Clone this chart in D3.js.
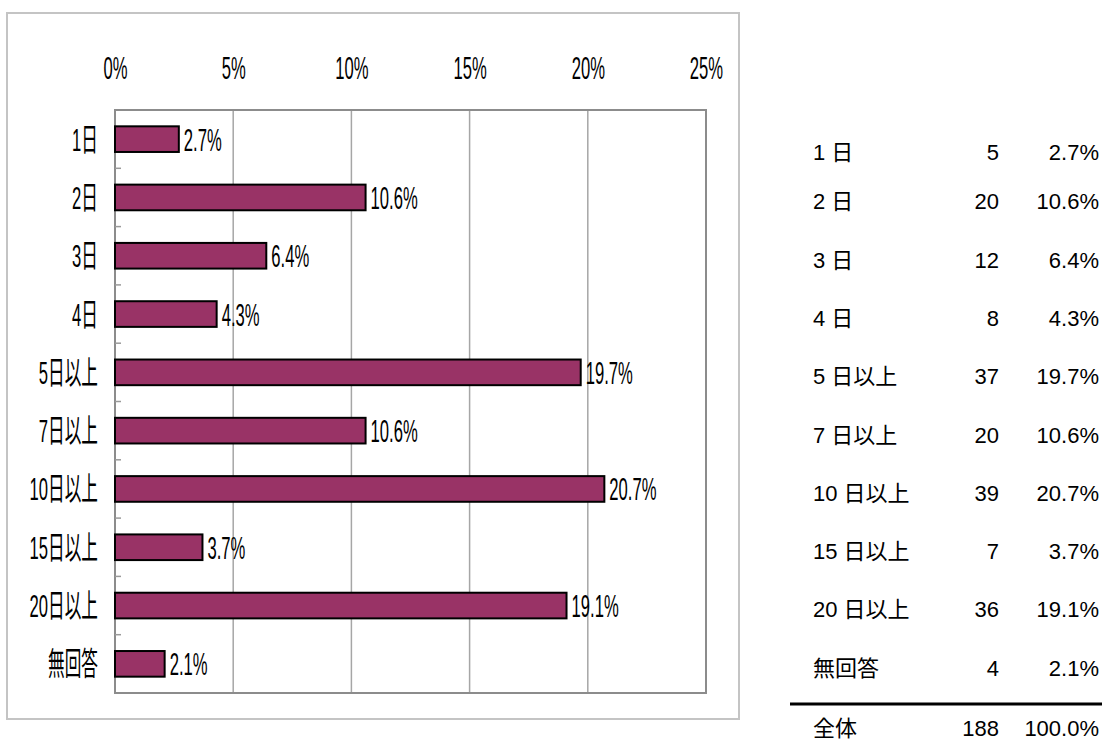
<!DOCTYPE html>
<html>
<head>
<meta charset="utf-8">
<script src="https://cdn.jsdelivr.net/npm/d3@7"></script>
<style>
  body { margin: 0; background: #fff; }
  svg { display: block; }
  .narrow { font-family: "Liberation Sans", Arial, "Noto Sans CJK JP", sans-serif; font-size: 32px; fill: #000; }
  .tbl { font-family: "Liberation Sans", Arial, "Noto Sans CJK JP", sans-serif; font-size: 22px; fill: #000; }
</style>
</head>
<body>
<div id="chart"></div>
<script>
// data
var categories = ["1日", "2日", "3日", "4日", "5日以上", "7日以上", "10日以上", "15日以上", "20日以上", "無回答"];
var tableLabels = ["1 日", "2 日", "3 日", "4 日", "5 日以上", "7 日以上", "10 日以上", "15 日以上", "20 日以上", "無回答"];
var counts = [5, 20, 12, 8, 37, 20, 39, 7, 36, 4];
var percents = [2.7, 10.6, 6.4, 4.3, 19.7, 10.6, 20.7, 3.7, 19.1, 2.1];
var xTicks = [0, 5, 10, 15, 20, 25];
var totalLabel = "全体";
var totalCount = 188;
var totalPercent = "100.0%";

var W = 1102, H = 744;
// plot area
var margin = { top: 110, left: 115 },
    width = 706 - 115,
    height = 693 - 110;
var sx = 0.52; // horizontal squeeze of the chart's lettering

var svg = d3.select("#chart").append("svg")
    .attr("width", W)
    .attr("height", H);

// outer frame of the chart
svg.append("rect")
    .attr("x", 7).attr("y", 13)
    .attr("width", 732).attr("height", 706)
    .attr("fill", "none")
    .attr("stroke", "#c4c4c4")
    .attr("stroke-width", 2);

var g = svg.append("g")
    .attr("transform", "translate(" + margin.left + "," + margin.top + ")");

var x = d3.scaleLinear().domain([0, 25]).range([0, width]);
var y = d3.scaleBand().domain(categories).range([0, height]).paddingInner(0.56).paddingOuter(0.28);
var yb = d3.scaleBand().domain(categories).range([0, height]); // full bands for ticks

// gridlines
g.selectAll(".grid")
    .data(xTicks.slice(1, -1))
    .enter().append("line")
    .attr("x1", function (d) { return x(d); })
    .attr("x2", function (d) { return x(d); })
    .attr("y1", 0).attr("y2", height)
    .attr("stroke", "#a6a6a6")
    .attr("stroke-width", 1.5);

// plot border
g.append("rect")
    .attr("width", width).attr("height", height)
    .attr("fill", "none")
    .attr("stroke", "#8c8c8c")
    .attr("stroke-width", 2);

// small tick marks between categories on the left axis
g.selectAll(".ytick")
    .data(categories.slice(1))
    .enter().append("line")
    .attr("x1", 0).attr("x2", 6)
    .attr("y1", function (d) { return yb(d); })
    .attr("y2", function (d) { return yb(d); })
    .attr("stroke", "#9a9a9a")
    .attr("stroke-width", 1.5);

// top axis labels
var xAxis = g.append("g")
    .call(d3.axisTop(x).tickValues(xTicks).tickSize(0).tickPadding(31)
        .tickFormat(function (d) { return d + "%"; }));
xAxis.select(".domain").remove();
xAxis.attr("font-family", null).attr("font-size", null);
xAxis.selectAll("text")
    .attr("class", "narrow")
    .attr("transform", "scale(" + sx + ",1)");

// left axis labels
var yAxis = g.append("g")
    .call(d3.axisLeft(y).tickSize(0).tickPadding(0));
yAxis.select(".domain").remove();
yAxis.attr("font-family", null).attr("font-size", null);
yAxis.selectAll("text")
    .attr("class", "narrow")
    .attr("x", -17 / sx)
    .attr("dy", "0.36em")
    .attr("transform", "scale(" + sx + ",1)");

// bars
g.selectAll(".bar")
    .data(categories)
    .enter().append("rect")
    .attr("class", "bar")
    .attr("x", 0)
    .attr("y", function (d) { return y(d); })
    .attr("width", function (d, i) { return x(percents[i]); })
    .attr("height", y.bandwidth())
    .attr("fill", "#993366")
    .attr("stroke", "#000")
    .attr("stroke-width", 2);

// value labels
g.selectAll(".val")
    .data(categories)
    .enter().append("g")
    .attr("transform", function (d, i) {
        return "translate(" + (x(percents[i]) + 5) + "," + (y(d) + y.bandwidth() / 2) + ") scale(" + sx + ",1)";
    })
    .append("text")
    .attr("class", "narrow")
    .attr("dy", "0.36em")
    .text(function (d, i) { return percents[i].toFixed(1) + "%"; });

// table on the right
var t = svg.append("g");
var colLabel = 813, colCount = 999, colPct = 1099;
function rowY(d, i) { return margin.top + y(d) + y.bandwidth() / 2 + (i === 0 ? 13 : 4); }

var rows = t.selectAll(".row")
    .data(categories)
    .enter().append("g")
    .attr("transform", function (d, i) { return "translate(0," + rowY(d, i) + ")"; });

rows.append("text").attr("class", "tbl")
    .attr("x", colLabel).attr("dy", "0.36em")
    .text(function (d, i) { return tableLabels[i]; });
rows.append("text").attr("class", "tbl")
    .attr("x", colCount).attr("dy", "0.36em")
    .attr("text-anchor", "end")
    .text(function (d, i) { return counts[i]; });
rows.append("text").attr("class", "tbl")
    .attr("x", colPct).attr("dy", "0.36em")
    .attr("text-anchor", "end")
    .text(function (d, i) { return percents[i].toFixed(1) + "%"; });

// total row with rule above it
var lastY = rowY(categories[categories.length - 1], categories.length - 1);
var step = yb.bandwidth();
t.append("line")
    .attr("x1", 790).attr("x2", W)
    .attr("y1", lastY + step * 0.62).attr("y2", lastY + step * 0.62)
    .attr("stroke", "#000")
    .attr("stroke-width", 3);
var tot = t.append("g").attr("transform", "translate(0," + (lastY + step * 1.03) + ")");
tot.append("text").attr("class", "tbl").attr("x", colLabel).attr("dy", "0.36em").text(totalLabel);
tot.append("text").attr("class", "tbl").attr("x", colCount).attr("dy", "0.36em")
    .attr("text-anchor", "end").text(totalCount);
tot.append("text").attr("class", "tbl").attr("x", colPct).attr("dy", "0.36em")
    .attr("text-anchor", "end").text(totalPercent);
</script>
</body>
</html>
